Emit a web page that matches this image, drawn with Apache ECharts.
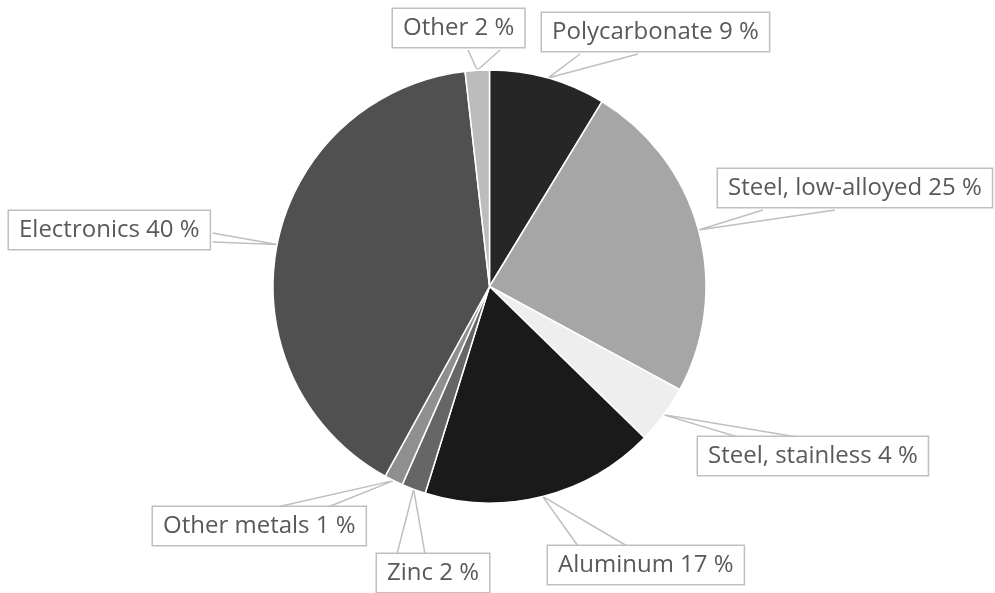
<!DOCTYPE html>
<html>
<head>
<meta charset="utf-8">
<script src="https://cdn.jsdelivr.net/npm/echarts@6/dist/echarts.min.js"></script>
<style>
  html, body { margin: 0; padding: 0; background: #fff; }
  #chart { width: 995px; height: 593px; }
</style>
</head>
<body>
<div id="chart"></div>
<script>
// ---- data ----
const categories = ['Polycarbonate', 'Steel, low-alloyed', 'Steel, stainless', 'Aluminum', 'Zinc', 'Other metals', 'Electronics', 'Other'];
const shares = [8.7, 24.2, 4.4, 17.5, 1.8, 1.4, 40.2, 1.8];      // slice sizes
const percentLabels = [9, 25, 4, 17, 2, 1, 40, 2];                // percentages printed in the labels

// ---- styles / layout ----
const sliceColors = ['#262626', '#a6a6a6', '#eeeeee', '#1a1a1a', '#666666', '#8f8f8f', '#505050', '#bcbcbc'];
// callout boxes: top-left of the box, side where the wedge attaches, and the two base positions on that side
const calloutLayout = [
  { left: 542, top: 13,  side: 'bottom', a: 580, b: 638 },
  { left: 718, top: 169, side: 'bottom', a: 763, b: 835 },
  { left: 698, top: 437, side: 'top',    a: 738, b: 797 },
  { left: 548, top: 546, side: 'top',    a: 578, b: 627 },
  { left: 377, top: 554, side: 'top',    a: 397, b: 425 },
  { left: 153, top: 507, side: 'top',    a: 277, b: 328 },
  { left: 9,   top: 211, side: 'right',  a: 233, b: 242 },
  { left: 393, top: 9,   side: 'bottom', a: 468, b: 500 }
];

const chart = echarts.init(document.getElementById('chart'), null, { renderer: 'canvas' });

const data = categories.map((name, i) => ({
  name: name,
  value: shares[i],
  itemStyle: { color: sliceColors[i] }
}));

chart.setOption({
  animation: false,
  backgroundColor: '#ffffff',
  series: [{
    type: 'pie',
    center: [489.5, 286.5],
    radius: 216.5,
    startAngle: 90,
    clockwise: true,
    avoidLabelOverlap: false,
    silent: true,
    data: data,
    itemStyle: { borderColor: '#ffffff', borderWidth: 1.5 },
    label: {
      show: true,
      position: 'outside',
      formatter: function (p) { return p.name + ' ' + percentLabels[p.dataIndex] + ' %'; },
      fontFamily: 'Open Sans',
      fontSize: 24,
      color: '#595959',
      backgroundColor: '#ffffff',
      borderColor: '#bfbfbf',
      borderWidth: 1.5,
      padding: [7, 10, 6, 10],
      lineHeight: 25
    },
    labelLine: {
      show: true,
      length: 20,
      length2: 20,
      lineStyle: { color: '#bfbfbf', width: 1.5 }
    },
    labelLayout: function (params) {
      const c = calloutLayout[params.dataIndex];
      const w = params.labelRect.width;
      const h = params.labelRect.height;
      const anchor = params.labelLinePoints ? params.labelLinePoints[0] : null;
      let pA, pB;
      if (c.side === 'bottom') { pA = [c.a, c.top + h]; pB = [c.b, c.top + h]; }
      else if (c.side === 'top') { pA = [c.a, c.top]; pB = [c.b, c.top]; }
      else if (c.side === 'right') { pA = [c.left + w, c.a]; pB = [c.left + w, c.b]; }
      else { pA = [c.left, c.a]; pB = [c.left, c.b]; }
      const out = { x: c.left, y: c.top, align: 'left', verticalAlign: 'top', hideOverlap: false, moveOverlap: null };
      if (anchor) out.labelLinePoints = [pA, anchor, pB];
      return out;
    }
  }]
});
</script>
</body>
</html>
